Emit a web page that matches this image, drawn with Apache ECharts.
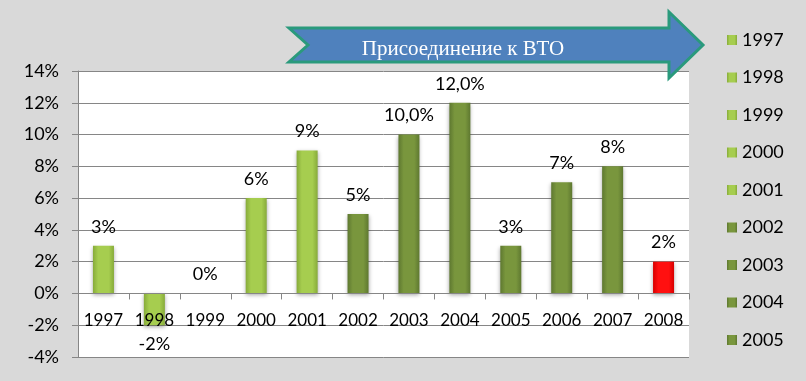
<!DOCTYPE html>
<html><head><meta charset="utf-8">
<script src="https://cdn.jsdelivr.net/npm/echarts@6/dist/echarts.min.js"></script>
<style>html,body{margin:0;padding:0;background:#d9d9d9}#c{width:806px;height:381px}</style>
</head><body><div id="c"></div>
<script>
const years = ['1997','1998','1999','2000','2001','2002','2003','2004','2005','2006','2007','2008'];
const values = [3, -2, 0, 6, 9, 5, 10, 12, 3, 7, 8, 2];
const valueLabels = ['3%','-2%','0%','6%','9%','5%','10,0%','12,0%','3%','7%','8%','2%'];
const legendYears = ['1997','1998','1999','2000','2001','2002','2003','2004','2005'];
const bannerText = 'Присоединение к ВТО';
const yMin = -4, yMax = 14, yStep = 2;

const FONT = 'Lato';
const GRID_TOP = 71, GRID_BOTTOM = 24, H = 381;
const gridH = H - GRID_TOP - GRID_BOTTOM;
// shift the category axis from the bottom edge up to the zero line
const zeroOffset = -((0 - yMin) / (yMax - yMin)) * gridH;

function grad(c1, c2) {
  return {type:'linear', x:0, y:0, x2:1, y2:0, colorStops:[
    {offset:0, color:c2},{offset:0.25, color:c1},{offset:0.75, color:c1},{offset:1, color:c2}]};
}
const light = grad('#a6cd4f', '#87ab3a');
const dark = grad('#79963d', '#5e7830');
const red = grad('#ff1010', '#d80000');
function colorFor(i){ return i <= 4 ? light : (i <= 10 ? dark : red); }

const series = years.map((y, i) => ({
  name: y,
  type: 'bar',
  stack: 'all',
  barWidth: 21,
  itemStyle: {color: colorFor(i), shadowBlur: 4, shadowColor: 'rgba(0,0,0,0.35)', shadowOffsetY: 2},
  data: years.map((_, j) => j === i ? {
    value: values[i],
    label: {show: true, position: values[i] < 0 ? 'bottom' : 'top', distance: 10,
      formatter: valueLabels[i], fontFamily: FONT, fontSize: 18, color: '#000'}
  } : null)
}));

const chart = echarts.init(document.getElementById('c'));
chart.setOption({
  backgroundColor: '#d9d9d9',
  animation: false,
  grid: {left: 78, right: 117, top: GRID_TOP, bottom: GRID_BOTTOM, show: true, backgroundColor: '#fff', borderWidth: 0,
    containLabel: false, outerBoundsMode: 'none'},
  legend: {
    data: legendYears, orient: 'vertical', left: 727, top: 30, padding: 0,
    icon: 'rect', itemWidth: 10, itemHeight: 10, itemGap: 17.5,
    textStyle: {fontFamily: FONT, fontSize: 18, color: '#000', lineHeight: 20}
  },
  xAxis: {
    type: 'category', data: years, offset: zeroOffset, z: 5,
    axisLine: {onZero: false, lineStyle: {color: '#868686'}},
    axisTick: {show: true, length: 6, lineStyle: {color: '#868686'}},
    axisLabel: {interval: 0, margin: 19, fontFamily: FONT, fontSize: 17, color: '#000'}
  },
  yAxis: {
    type: 'value', min: yMin, max: yMax, interval: yStep,
    axisLine: {show: true, lineStyle: {color: '#868686'}},
    axisTick: {show: true, length: 6, lineStyle: {color: '#868686'}},
    splitLine: {lineStyle: {color: '#868686'}},
    axisLabel: {formatter: '{value}%', margin: 19, fontFamily: FONT, fontSize: 18, color: '#000'}
  },
  series: series,
  graphic: [{
    type: 'polygon', z: 100,
    shape: {points: [[289,28],[669,28],[669,12],[703,45],[669,78],[669,62],[289,62],[308,45]]},
    style: {fill: '#4f81bd', stroke: '#2a9a7c', lineWidth: 3}
  }, {
    type: 'text', z: 101,
    style: {text: bannerText, x: 463, y: 49, align: 'center', verticalAlign: 'middle',
      fontFamily: 'Liberation Serif', fontSize: 21, fill: '#fff'}
  }]
});
</script></body></html>
